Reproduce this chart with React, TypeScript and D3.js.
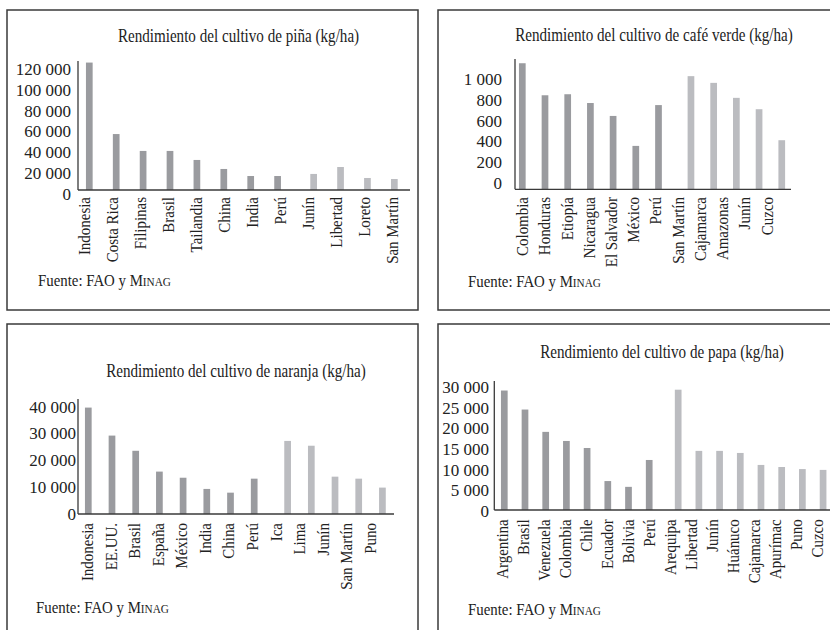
import React from "react";
import * as d3 from "d3";

// ---------- DATA ----------
const pinaCats = ["Indonesia", "Costa Rica", "Filipinas", "Brasil", "Tailandia", "China", "India", "Perú", "Junín", "Libertad", "Loreto", "San Martín"];
const pinaVals = [123000, 54000, 37700, 37700, 29000, 20300, 13500, 13500, 15500, 22200, 11600, 10600];
const pinaWorld = 8;
const pinaTicks = [0, 20000, 40000, 60000, 80000, 100000, 120000];

const cafeCats = ["Colombia", "Honduras", "Etiopía", "Nicaragua", "El Salvador", "México", "Perú", "San Martín", "Cajamarca", "Amazonas", "Junín", "Cuzco"];
const cafeVals = [1220, 910, 920, 835, 710, 420, 815, 1095, 1030, 885, 775, 475];
const cafeWorld = 7;
const cafeTicks = [0, 200, 400, 600, 800, 1000];

const naranjaCats = ["Indonesia", "EE.UU.", "Brasil", "España", "México", "India", "China", "Perú", "Ica", "Lima", "Junín", "San Martín", "Puno"];
const naranjaVals = [39900, 29400, 23700, 15900, 13600, 9400, 8000, 13250, 27400, 25600, 14000, 13250, 9900];
const naranjaWorld = 8;
const naranjaTicks = [0, 10000, 20000, 30000, 40000];

const papaCats = ["Argentina", "Brasil", "Venezuela", "Colombia", "Chile", "Ecuador", "Bolivia", "Perú", "Arequipa", "Libertad", "Junín", "Huánuco", "Cajamarca", "Apurímac", "Puno", "Cuzco"];
const papaVals = [28900, 24300, 18900, 16700, 15000, 7000, 5600, 12100, 29100, 14300, 14300, 13800, 10900, 10400, 9900, 9700];
const papaWorld = 8;
const papaTicks = [0, 5000, 10000, 15000, 20000, 25000, 30000];

const titles = [
  "Rendimiento del cultivo de piña (kg/ha)",
  "Rendimiento del cultivo de café verde (kg/ha)",
  "Rendimiento del cultivo de naranja (kg/ha)",
  "Rendimiento del cultivo de papa (kg/ha)",
];

// ---------- STYLE ----------
const FONT = "'Liberation Serif', 'Times New Roman', serif";
const TEXT = "#222";
const DARK = "#9a9b9f";
const LIGHT = "#bbbcc0";
const LINE = "#3a3a3a";

const fmt = d3.formatLocale({ decimal: ",", thousands: " ", grouping: [3], currency: ["", ""] }).format(",d");

type Layout = {
  box: [number, number, number, number];
  axisX: number; axisY: number; yTop: number; xEnd: number;
  pxPerUnit: number; tickRight: number; tickDy: number;
  barX0: number; barStep: number; gap: number;
  labX0: number; labX1: number; labTop: number;
  titleX: number; titleY: number; srcX: number; srcY: number;
};

function T(props: any) {
  const { x, y, rot = 0, sx = 1, size, anchor = "start", baseline, children } = props;
  return (
    <text
      transform={`translate(${x},${y}) rotate(${rot}) scale(${sx},1)`}
      fontSize={size}
      textAnchor={anchor}
      dominantBaseline={baseline}
      fill={TEXT}
      fontFamily={FONT}
    >
      {children}
    </text>
  );
}

function Chart(props: { cats: string[]; vals: number[]; world: number; ticks: number[]; title: string; L: Layout }) {
  const { cats, vals, world, ticks, title, L } = props;
  const maxT = ticks[ticks.length - 1];
  const y = d3.scaleLinear().domain([0, maxT]).range([L.axisY, L.axisY - maxT * L.pxPerUnit]);
  const xb = d3.scaleLinear().domain([0, 1]).range([L.barX0, L.barX0 + L.barStep]);
  const xl = d3.scaleLinear().domain([0, cats.length - 1]).range([L.labX0, L.labX1]);
  const bw = 6.7;
  const [bx, by, bw2, bh] = L.box;
  return (
    <g>
      <rect x={bx} y={by} width={bw2} height={bh} fill="none" stroke={LINE} strokeWidth={1.5} />
      <T x={L.titleX} y={L.titleY} size={18} sx={0.84} anchor="middle">{title}</T>
      {vals.map((v, i) => {
        const slot = i + (i >= world ? L.gap : 0);
        const cx = xb(slot);
        return (
          <rect key={i} x={cx - bw / 2} y={y(v)} width={bw} height={L.axisY - y(v)} fill={i < world ? DARK : LIGHT} />
        );
      })}
      <line x1={L.axisX} x2={L.axisX} y1={L.yTop} y2={L.axisY} stroke={LINE} strokeWidth={1.3} />
      <line x1={L.axisX} x2={L.xEnd} y1={L.axisY} y2={L.axisY} stroke={LINE} strokeWidth={1.3} />
      {ticks.map((t) => (
        <T key={t} x={L.tickRight} y={y(t) + L.tickDy} size={17} anchor="end" baseline="central">{fmt(t)}</T>
      ))}
      {cats.map((c, i) => (
        <T key={c + i} x={xl(i)} y={L.labTop} rot={-90} sx={0.88} size={17} anchor="end" baseline="central">{c}</T>
      ))}
      <text transform={`translate(${L.srcX},${L.srcY}) scale(0.9,1)`} fontFamily={FONT} fill={TEXT} fontSize={16.5}>
        Fuente: FAO y M<tspan fontSize={12.5}>INAG</tspan>
      </text>
    </g>
  );
}

const pinaL: Layout = {
  box: [7, 10, 411, 300], axisX: 78, axisY: 190, yTop: 61, xEnd: 410,
  pxPerUnit: 20.72 / 20000, tickRight: 71, tickDy: 4,
  barX0: 89.3, barStep: 26.9, gap: 0.34,
  labX0: 84.3, labX1: 391.7, labTop: 197,
  titleX: 238.5, titleY: 42, srcX: 38, srcY: 286,
};
const cafeL: Layout = {
  box: [438, 10, 420, 300], axisX: 515, axisY: 189.3, yTop: 59, xEnd: 791,
  pxPerUnit: 0.10333, tickRight: 502, tickDy: -6,
  barX0: 522.3, barStep: 22.7, gap: 0.43,
  labX0: 522.3, labX1: 766.7, labTop: 197,
  titleX: 654, titleY: 41, srcX: 468, srcY: 287,
};
const naranjaL: Layout = {
  box: [7, 324, 411, 330], axisX: 78, axisY: 514, yTop: 399, xEnd: 394,
  pxPerUnit: 26.67 / 10000, tickRight: 76, tickDy: 0,
  barX0: 88.3, barStep: 23.7, gap: 0.41,
  labX0: 87.3, labX1: 370, labTop: 523,
  titleX: 236, titleY: 377, srcX: 36, srcY: 613,
};
const papaL: Layout = {
  box: [438, 324, 420, 330], axisX: 494.3, axisY: 510, yTop: 381, xEnd: 830,
  pxPerUnit: 20.67 / 5000, tickRight: 489, tickDy: 1.5,
  barX0: 504.3, barStep: 20.7, gap: 0.4,
  labX0: 502.3, labX1: 816.7, labTop: 519.3,
  titleX: 662, titleY: 358, srcX: 468, srcY: 615,
};

export default function App() {
  return (
    <svg
      width={830}
      height={630}
      viewBox="0 0 830 630"
      style={{ position: "absolute", left: 0, top: 0, background: "#fff" }}
    >
      <rect x={0} y={0} width={830} height={630} fill="#fff" />
      <Chart cats={pinaCats} vals={pinaVals} world={pinaWorld} ticks={pinaTicks} title={titles[0]} L={pinaL} />
      <Chart cats={cafeCats} vals={cafeVals} world={cafeWorld} ticks={cafeTicks} title={titles[1]} L={cafeL} />
      <Chart cats={naranjaCats} vals={naranjaVals} world={naranjaWorld} ticks={naranjaTicks} title={titles[2]} L={naranjaL} />
      <Chart cats={papaCats} vals={papaVals} world={papaWorld} ticks={papaTicks} title={titles[3]} L={papaL} />
    </svg>
  );
}
